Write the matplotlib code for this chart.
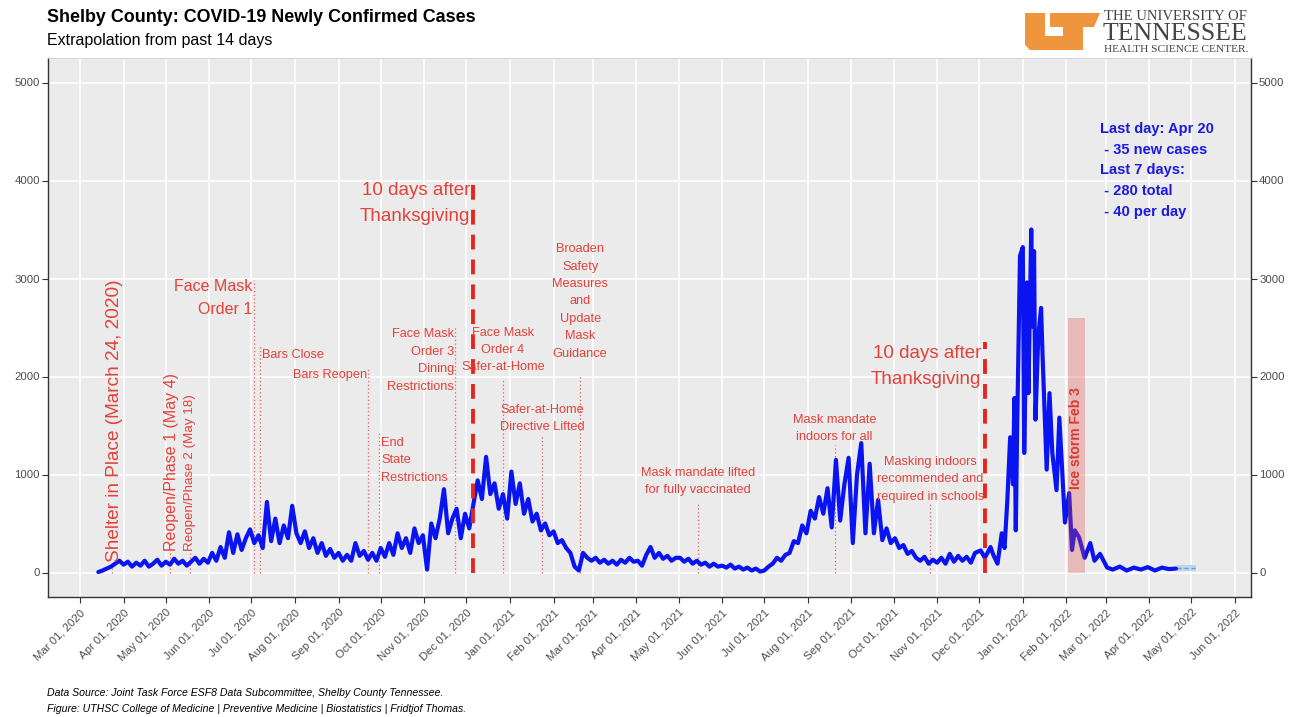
import numpy as np
import matplotlib
matplotlib.use("Agg")
import matplotlib.pyplot as plt
import matplotlib.dates as mdates
from matplotlib.patches import Polygon, Rectangle
import pandas as pd

plt.rcParams['font.family'] = ['Liberation Sans', 'DejaVu Sans']

# ---------------- data ----------------
TITLE = "Shelby County: COVID-19 Newly Confirmed Cases"
SUBTITLE = "Extrapolation from past 14 days"
CAPTION_1 = "Data Source: Joint Task Force ESF8 Data Subcommittee, Shelby County Tennessee."
CAPTION_2 = "Figure: UTHSC College of Medicine | Preventive Medicine | Biostatistics | Fridtjof Thomas."

BASE_DATE = "2020-03-01"
# early part of the series: one reading every 3 days starting 2020-03-14
early_start_offset = 13
early_step = 3
early_cases = [
    5, 20, 40, 60, 90, 120,
    80, 110, 60, 100, 70, 120, 60, 90, 130, 70,
    110, 80, 140, 90, 120, 70, 110, 150, 90, 140,
    100, 200, 120, 260, 150, 410, 200, 390, 230, 350,
    440, 300, 380, 250, 720, 320, 550, 300, 480, 350,
    680, 400, 300, 420, 250, 350, 200, 300, 170, 240,
    150, 200, 120, 180, 120, 300, 170, 220, 130, 200,
    120, 250, 160, 300, 180, 400, 250, 350, 200, 450,
    300, 380, 30, 500, 350, 550, 850, 400, 550, 650,
    350, 600, 450, 700, 940, 750, 1180, 800, 910, 650,
    800, 550, 1030, 700, 910, 600, 750, 520, 600, 430,
    500, 380, 420, 300, 330, 250, 200, 60, 20, 200,
    150, 120, 150, 100, 130, 90, 120, 80, 130, 100,
    150, 110, 120, 70, 180, 260, 150, 200, 140, 170,
    120, 150, 150, 110, 140, 90, 120, 80, 100, 60,
    90, 60, 70, 50, 80, 40, 60, 30, 50, 20,
    40, 10, 20, 60, 90, 150, 120, 180, 200, 320,
    300, 480, 400, 630, 550, 770, 600, 860, 460, 1150,
    530, 900, 1170, 300, 1000, 1320, 400, 1110, 400, 740,
    330, 450, 300, 350, 250, 280, 190, 220, 150, 120,
    160, 90, 130, 100, 150, 90, 190, 110, 170, 120,
    160, 100, 200,
]
# late part (Omicron wave), days since BASE_DATE
late_day_offset = [641, 644, 648, 650, 653, 656, 658, 660, 662, 664, 665, 666, 667,
                   669, 671, 672, 674, 675, 677, 678, 679, 680, 682, 684, 685, 688,
                   690, 692, 695, 697, 701, 704, 706, 708, 711, 715, 719, 722, 726,
                   731, 735, 740, 745, 750, 755, 760, 765, 770, 775, 780]
late_cases = [225, 150, 260, 180, 90, 400, 250, 740, 1380, 900, 1780, 430, 1500,
              3230, 3320, 1220, 2960, 1830, 3500, 2510, 3280, 1560, 2410, 2700, 2240, 1050,
              1830, 1220, 840, 1580, 510, 810, 230, 430, 360, 150, 300, 120, 190,
              50, 30, 60, 20, 50, 30, 55, 20, 50, 35, 40]

# extrapolation (next 14 days)
extrap_dates = ["2022-04-21", "2022-05-04"]
extrap_mean = [45, 45]
extrap_low = [15, 15]
extrap_high = [75, 75]

ice_storm_dates = ["2022-02-02", "2022-02-14"]
ice_storm_top = 2600
ice_storm_label = "Ice storm Feb 3"

info_text = "Last day: Apr 20\n - 35 new cases\nLast 7 days:\n - 280 total\n - 40 per day"

event_dates = ["2020-03-24", "2020-05-04", "2020-05-18", "2020-07-03", "2020-07-07",
               "2020-09-22", "2020-09-30", "2020-11-23", "2020-12-06", "2020-12-27",
               "2021-01-24", "2021-02-20", "2021-05-15", "2021-08-20", "2021-10-27",
               "2021-12-05"]
event_labels = ["Shelter in Place (March 24, 2020)",
                "Reopen/Phase 1 (May 4)",
                "Reopen/Phase 2 (May 18)",
                "Face Mask\nOrder 1",
                "Bars Close",
                "Bars Reopen",
                "End\nState\nRestrictions",
                "Face Mask\nOrder 3\nDining\nRestrictions",
                "10 days after\nThanksgiving",
                "Face Mask\nOrder 4\nSafer-at-Home",
                "Safer-at-Home\nDirective Lifted",
                "Broaden\nSafety\nMeasures\nand\nUpdate\nMask\nGuidance",
                "Mask mandate lifted\nfor fully vaccinated",
                "Mask mandate\nindoors for all",
                "Masking indoors\nrecommended and\nrequired in schools",
                "10 days after\nThanksgiving"]

y_ticks = [0, 1000, 2000, 3000, 4000, 5000]

# ---------------- layout / style ----------------
# per event: (text x shift in days, text y, ha, va, fontsize, rotation, line top, line style)
event_layout = [
    (1.5, 110, 'center', 'bottom', 13.7, 90, 110, 'dot'),
    (1.0, 220, 'center', 'bottom', 11.5, 90, 220, 'dot'),
    (0.5, 220, 'center', 'bottom', 9.6, 90, 220, 'dot'),
    (-1.5, 2990, 'right', 'top', 11.5, 0, 2980, 'dot'),
    (1.5, 2215, 'left', 'center', 9.2, 0, 2320, 'dot'),
    (-1.0, 2020, 'right', 'center', 9.2, 0, 2100, 'dot'),
    (1.5, 1385, 'left', 'top', 9.2, 0, 1430, 'dot'),
    (-1.0, 2490, 'right', 'top', 9.2, 0, 2500, 'dot'),
    (-2.5, 3980, 'right', 'top', 13.5, 0, 4000, 'dash'),
    (0.0, 2510, 'center', 'top', 9.2, 0, 1970, 'dot'),
    (0.0, 1720, 'center', 'top', 9.2, 0, 1390, 'dot'),
    (0.0, 3360, 'center', 'top', 9.2, 0, 2020, 'dot'),
    (0.0, 1080, 'center', 'top', 9.2, 0, 720, 'dot'),
    (0.0, 1620, 'center', 'top', 9.2, 0, 1300, 'dot'),
    (0.0, 1190, 'center', 'top', 9.2, 0, 720, 'dot'),
    (-2.5, 2320, 'right', 'top', 13.5, 0, 2350, 'dash'),
]

RED_TXT = '#E3413A'
RED_LINE = '#E5261F'
BLUE = '#0A14F0'
GREY_TXT = '#4D4D4D'

W, H = 1299, 717
fig = plt.figure(figsize=(W / 100, H / 100), dpi=100)
ax = fig.add_axes([48.3 / W, 1 - 597 / H, (1250.7 - 48.3) / W, (597 - 58) / H])
ax.set_facecolor('#EBEBEB')

base = mdates.date2num(pd.Timestamp(BASE_DATE))
early_x = base + early_start_offset + early_step * np.arange(len(early_cases))
late_x = base + np.array(late_day_offset)
series_x = np.concatenate([early_x, late_x])
series_y = np.concatenate([np.array(early_cases, float), np.array(late_cases, float)])

ax.plot(series_x, series_y, color=BLUE, lw=3.0, solid_joinstyle='round',
        solid_capstyle='round', zorder=5)

# extrapolation
ex_x = [mdates.date2num(pd.Timestamp(d)) for d in extrap_dates]
ax.fill_between(ex_x, extrap_low, extrap_high, color='#A8CBF2', alpha=0.7, lw=0, zorder=4)
ax.plot(ex_x, extrap_mean, color='#6C9BE0', lw=1, ls=(0, (3, 2)), zorder=4)

# events
for d, lab, lay in zip(event_dates, event_labels, event_layout):
    dx, ty, ha, va, fs, rot, ltop, lstyle = lay
    xd = mdates.date2num(pd.Timestamp(d))
    if lstyle == 'dash':
        ax.plot([xd, xd], [0, ltop], color=RED_LINE, lw=2.8, ls=(0, (3.8, 2.6)), zorder=6)
    else:
        ax.plot([xd, xd], [0, ltop], color='#E8605A', lw=0.9, ls=(0, (1, 2)), zorder=3)
    ax.text(xd + dx, ty, lab, ha=ha, va=va, fontsize=fs, rotation=rot, color=RED_TXT,
            linespacing=1.6 if fs < 12 else 1.68, zorder=7,
            multialignment=ha if rot == 0 else 'center')

# ice storm
ix = [mdates.date2num(pd.Timestamp(d)) for d in ice_storm_dates]
ax.add_patch(Rectangle((ix[0], 0), ix[1] - ix[0], ice_storm_top, facecolor='#E04848',
                       alpha=0.3, lw=0, zorder=8))
ax.text((ix[0] + ix[1]) / 2, 1370, ice_storm_label, rotation=90, ha='center', va='center',
        fontsize=10, color='#D93A32', fontweight='bold', zorder=9)

# info text
ax.text(base + 726, 4600, info_text, ha='left', va='top', fontsize=10.5,
        fontweight='bold', color='#1A1AE0', linespacing=1.62, zorder=9)

# axes
ax.set_ylim(-250, 5250)
ax.set_xlim(base - 22.6, base + 833.2)
ax.set_yticks(y_ticks)
ax.set_yticklabels([str(v) for v in y_ticks])
ax.xaxis.set_major_locator(mdates.MonthLocator())
ax.xaxis.set_major_formatter(mdates.DateFormatter('%b %d, %Y'))
ax.grid(True, which='major', color='white', lw=1.1)
ax.set_axisbelow(True)
ax.tick_params(axis='both', colors='#333333', length=4, width=0.8, labelcolor=GREY_TXT,
               labelsize=8.2)
ax.tick_params(axis='y', right=True, labelright=True, pad=2)
for lbl in ax.get_xticklabels():
    lbl.set_rotation(45)
    lbl.set_ha('right')
    lbl.set_rotation_mode('anchor')
for side in ['left', 'bottom', 'right']:
    ax.spines[side].set_color('#333333')
    ax.spines[side].set_linewidth(1.0)
ax.spines['top'].set_color('#D0D0D0')
ax.spines['top'].set_linewidth(0.6)

# titles
fig.text(47 / W, 1 - 18 / H, TITLE, fontsize=12.9, fontweight='bold', va='center', ha='left')
fig.text(47 / W, 1 - 41 / H, SUBTITLE, fontsize=11.5, va='center', ha='left')
fig.text(47 / W, 1 - 693 / H, CAPTION_1, fontsize=7.6, style='italic', va='center', ha='left')
fig.text(47 / W, 1 - 709 / H, CAPTION_2, fontsize=7.6, style='italic', va='center', ha='left')

# logo
logo_px = [(1025, 13), (1045, 13), (1045, 36), (1063, 36), (1063, 27), (1050, 27),
           (1050, 13), (1100, 13), (1094, 27), (1083, 27), (1083, 50), (1030, 50),
           (1025, 45)]
fig.patches.append(Polygon([(x / W, 1 - y / H) for x, y in logo_px], closed=True,
                           facecolor='#EF953D', edgecolor='none',
                           transform=fig.transFigure, figure=fig))
serif = ['Liberation Serif', 'DejaVu Serif']
fig.text(1104 / W, 1 - 17 / H, "THE UNIVERSITY OF", family=serif, fontsize=10.6,
         color='#444444', va='center', ha='left')
fig.text(1103 / W, 1 - 34 / H, "TENNESSEE", family=serif, fontsize=18.5,
         color='#444444', va='center', ha='left')
fig.text(1104 / W, 1 - 49 / H, "HEALTH SCIENCE CENTER.", family=serif, fontsize=8.2,
         color='#444444', va='center', ha='left')

fig.savefig('out.png', dpi=100, facecolor='white')
